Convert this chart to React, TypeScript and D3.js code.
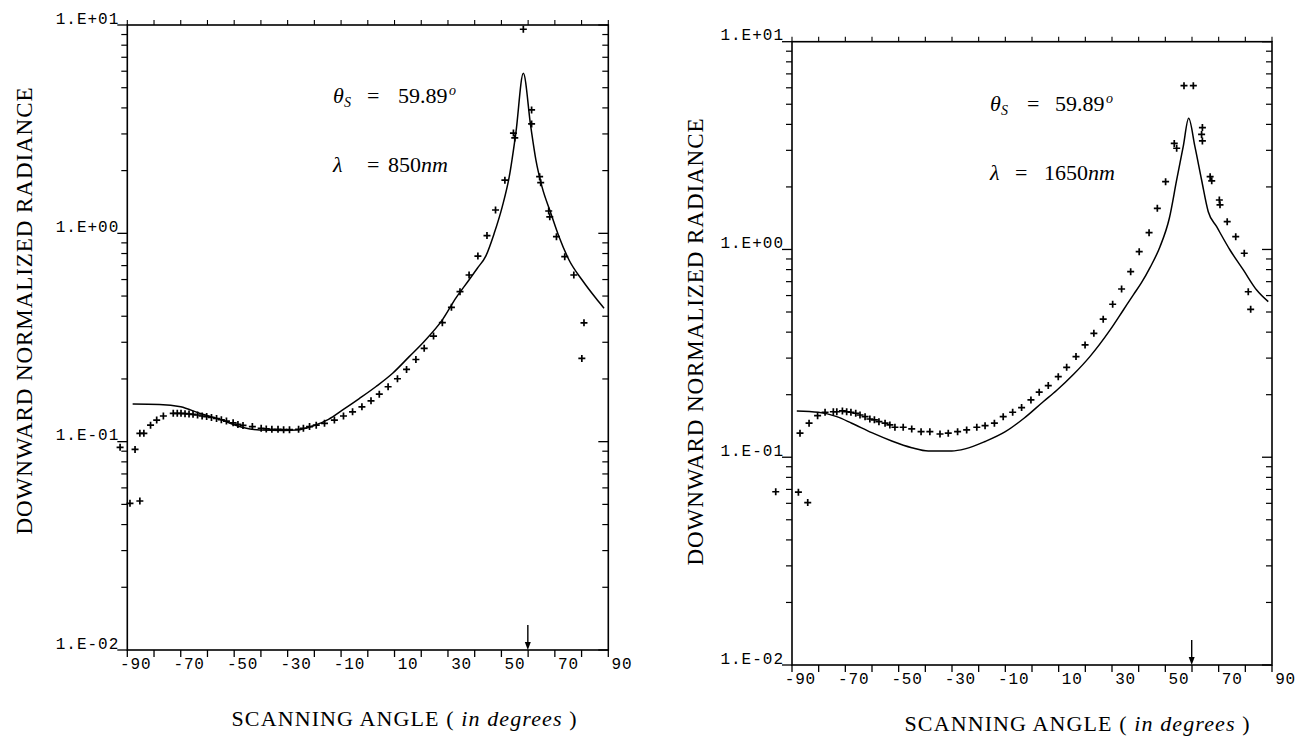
import React from 'react';
import * as d3 from 'd3';

// ---- data ----
// 850 nm panel, model curve
const modelAngle850 = [-88, -78, -70, -63, -55.4, -46.7, -40.5, -31.5, -26.5, -20.3, -14.7, -9.4, -3.2, 3.1, 9.3, 15.5, 21, 27.9, 33, 38, 41, 44.2, 47.3, 50.3, 52.9, 55.4, 58.2, 61, 62.9, 65.2, 68.5, 71.6, 75.3, 80.2, 85.3, 88.4];
const modelValue850 = [0.1515, 0.151, 0.147, 0.137, 0.128, 0.117, 0.1137, 0.1132, 0.1137, 0.1192, 0.128, 0.142, 0.161, 0.184, 0.213, 0.256, 0.302, 0.384, 0.49, 0.6, 0.68, 0.78, 1.0, 1.34, 1.86, 3.03, 5.86, 3.24, 2.25, 1.67, 1.25, 0.96, 0.745, 0.597, 0.489, 0.437];
// 850 nm panel, measurements (+)
const obsAngle850 = [-92.7, -87.1, -89, -85.3, -85.3, -83.8, -81.3, -79, -76.5, -72.8, -71.3, -69.9, -68.4, -66.9, -65.4, -63.7, -62, -60.3, -58.5, -56.6, -54.8, -52.9, -50.4, -48.6, -46.7, -43.2, -39.9, -38, -35.9, -33.6, -31.5, -29.3, -25.9, -24.1, -21.8, -19.3, -16.2, -12.5, -9.1, -5.7, -2.2, 1.2, 4.3, 7.6, 11.1, 14.5, 18, 21.1, 24.6, 27.9, 31.3, 34.5, 37.9, 41.2, 44.6, 47.8, 51.3, 54.5, 55, 58.2, 61.3, 61.3, 64.3, 64.7, 67.7, 68.1, 70.6, 73.7, 77.1, 80.9, 80.1];
const obsValue850 = [0.0939, 0.0918, 0.0506, 0.0519, 0.1096, 0.1096, 0.12, 0.127, 0.1328, 0.1368, 0.1368, 0.1368, 0.1363, 0.1358, 0.1353, 0.1343, 0.1328, 0.132, 0.1306, 0.1292, 0.1274, 0.1255, 0.1232, 0.121, 0.1196, 0.1182, 0.116, 0.1151, 0.1147, 0.1147, 0.1142, 0.1142, 0.1147, 0.116, 0.1182, 0.12, 0.1225, 0.127, 0.1328, 0.139, 0.147, 0.157, 0.169, 0.1835, 0.2004, 0.2223, 0.248, 0.2805, 0.3214, 0.3724, 0.4416, 0.5248, 0.631, 0.778, 0.976, 1.294, 1.8, 3.03, 2.87, 9.54, 3.91, 3.35, 1.87, 1.75, 1.28, 1.2, 0.964, 0.773, 0.631, 0.372, 0.251];

// 1650 nm panel, model curve
const modelAngle1650 = [-88.2, -80.1, -73.2, -67.6, -60.1, -52.6, -45.1, -38.9, -30.1, -25.1, -17.6, -10, -3, 4.2, 9.3, 15.5, 21.7, 29.3, 34.2, 38, 41, 44.3, 48, 51.5, 54.25, 56.7, 58.75, 61.1, 63.6, 66.1, 69.25, 74.25, 79.25, 84.25, 88.6];
const modelValue1650 = [0.167, 0.1646, 0.1568, 0.1458, 0.1313, 0.1198, 0.1112, 0.1072, 0.1072, 0.1097, 0.119, 0.1327, 0.154, 0.185, 0.21, 0.25, 0.305, 0.41, 0.51, 0.605, 0.69, 0.82, 1.031, 1.413, 2.16, 3.125, 4.28, 3.125, 2.16, 1.52, 1.287, 0.994, 0.797, 0.638, 0.561];
// 1650 nm panel, measurements (+)
const obsAngle1650 = [-96.1, -87, -87.6, -84.1, -83.6, -80.4, -77.6, -74.5, -73.2, -71.1, -69.5, -67.9, -66.1, -64.5, -62.6, -60.8, -59.1, -57.4, -55.1, -53.3, -51.4, -48.3, -45.1, -41.6, -38.3, -34.5, -31.4, -27.9, -24.5, -20.7, -17.6, -14.1, -10.8, -7.25, -3.9, -0.4, 2.7, 6.1, 9.85, 13, 16.5, 19.9, 23.2, 26.7, 30.25, 33.6, 37, 40.2, 43.9, 47, 50.1, 53.35, 54.25, 57, 60.5, 63.9, 63.6, 63.9, 66.8, 67.4, 70.25, 70.5, 73.2, 76.4, 79.6, 81.1, 82];
const obsValue1650 = [0.0682, 0.1305, 0.0679, 0.0605, 0.1459, 0.1585, 0.1646, 0.1655, 0.1655, 0.167, 0.1655, 0.1646, 0.1628, 0.1597, 0.1568, 0.1528, 0.1513, 0.1483, 0.1459, 0.143, 0.1394, 0.1394, 0.1368, 0.1328, 0.1328, 0.1294, 0.1305, 0.1328, 0.1353, 0.1394, 0.1418, 0.1459, 0.1568, 0.1646, 0.1733, 0.1887, 0.2056, 0.2212, 0.2443, 0.271, 0.305, 0.347, 0.395, 0.4617, 0.5448, 0.6454, 0.782, 0.976, 1.205, 1.578, 2.12, 3.24, 3.07, 6.14, 6.14, 3.86, 3.58, 3.33, 2.24, 2.14, 1.73, 1.64, 1.36, 1.152, 0.959, 0.626, 0.515];

const xTicks = d3.range(-90, 91, 10);
const xLabels = d3.range(-90, 91, 20);
const yMajor = [0.01, 0.1, 1, 10];
const yMajorLabels = ['1.E-02', '1.E-01', '1.E+00', '1.E+01'];
const solarAngle = 59.89;

const serif = '"Liberation Serif", "DejaVu Serif", serif';
const mono = '"Liberation Mono", "DejaVu Sans Mono", monospace';

type PanelProps = {
  left: number; right: number; top: number; bottom: number;
  modelA: number[]; modelV: number[]; obsA: number[]; obsV: number[];
  wave: string;
  ann: { x: number; y1: number; y2: number; eq1: number; eq2: number; num2: number };
  yTitle: { x: number; y: number };
  xTitle: { x: number; y: number };
};

const Panel = ({ left, right, top, bottom, modelA, modelV, obsA, obsV, wave, ann, yTitle, xTitle }: PanelProps) => {
  const x = d3.scaleLinear().domain([-90, 90]).range([left, right]);
  const y = d3.scaleLog().domain([0.01, 10]).range([bottom, top]);

  const minor: number[] = [];
  [0.01, 0.1, 1].forEach(d => d3.range(2, 10).forEach(k => minor.push(d * k)));

  const line = d3.line<number>()
    .x((_, i) => x(modelA[i]))
    .y(d => y(d))
    .curve(d3.curveMonotoneX);

  const ax = x(solarAngle);

  return (
    <g>
      {/* frame */}
      <rect x={left} y={top} width={right - left} height={bottom - top} fill="none" stroke="#000" strokeWidth={1.6} />
      {/* x ticks */}
      {xTicks.map(t => (
        <g key={'xt' + t}>
          <line x1={x(t)} x2={x(t)} y1={bottom} y2={bottom + 7} stroke="#000" strokeWidth={1.3} />
          <line x1={x(t)} x2={x(t)} y1={top} y2={top - 5} stroke="#000" strokeWidth={1.1} />
        </g>
      ))}
      {xLabels.map(t => (
        <text key={'xl' + t} x={x(t) + 24} y={bottom + 19} textAnchor="end" fontFamily={mono} fontSize={16} letterSpacing={0.8}>
          {t < 0 ? '-' + Math.abs(t) : String(t)}
        </text>
      ))}
      {/* y ticks */}
      {minor.map(v => (
        <g key={'ym' + v}>
          <line x1={left} x2={left - 6} y1={y(v)} y2={y(v)} stroke="#000" strokeWidth={1.2} />
          <line x1={right} x2={right - 6} y1={y(v)} y2={y(v)} stroke="#000" strokeWidth={1.2} />
        </g>
      ))}
      {yMajor.map((v, i) => (
        <g key={'yM' + v}>
          <line x1={left} x2={left - 10} y1={y(v)} y2={y(v)} stroke="#000" strokeWidth={1.3} />
          <line x1={right} x2={right - 10} y1={y(v)} y2={y(v)} stroke="#000" strokeWidth={1.3} />
          <text x={left - 8} y={y(v) - 1.5} textAnchor="end" fontFamily={mono} fontSize={16} letterSpacing={1}>
            {yMajorLabels[i]}
          </text>
        </g>
      ))}
      {/* model */}
      <path d={line(modelV) || ''} fill="none" stroke="#000" strokeWidth={1.5} />
      {/* measurements */}
      {obsA.map((a, i) => {
        const px = x(a), py = y(obsV[i]);
        return <path key={'o' + i} d={`M${px - 3.5},${py}H${px + 3.5}M${px},${py - 3.5}V${py + 3.5}`} stroke="#000" strokeWidth={1.7} />;
      })}
      {/* solar angle arrow */}
      <line x1={ax} x2={ax} y1={bottom - 25} y2={bottom - 5} stroke="#000" strokeWidth={1.4} />
      <path d={`M${ax - 3},${bottom - 8}L${ax + 3},${bottom - 8}L${ax},${bottom}Z`} fill="#000" />
      {/* annotations */}
      <g fontFamily={serif} fontSize={22}>
        <text x={ann.x} y={ann.y1} fontStyle="italic">θ</text>
        <text x={ann.x + 11} y={ann.y1 + 4} fontStyle="italic" fontSize={14}>S</text>
        <text x={ann.x + ann.eq1} y={ann.y1}>=</text>
        <text x={ann.x + 65} y={ann.y1}>59.89</text>
        <text x={ann.x + 116} y={ann.y1 - 8} fontStyle="italic" fontSize={14}>o</text>
        <text x={ann.x} y={ann.y2} fontStyle="italic">λ</text>
        <text x={ann.x + ann.eq2} y={ann.y2}>=</text>
        <text x={ann.x + ann.num2} y={ann.y2}>
          {wave}<tspan fontStyle="italic">nm</tspan>
        </text>
      </g>
      {/* axis titles */}
      <text transform={`translate(${yTitle.x},${yTitle.y}) rotate(-90)`} textAnchor="middle" fontFamily={serif} fontSize={23} textLength={447} lengthAdjust="spacing">
        DOWNWARD NORMALIZED RADIANCE
      </text>
      <text x={xTitle.x} y={xTitle.y} textAnchor="middle" fontFamily={serif} fontSize={22} textLength={345} lengthAdjust="spacing">
        SCANNING ANGLE ( <tspan fontStyle="italic">in degrees</tspan> )
      </text>
    </g>
  );
};

export default function App() {
  return (
    <div style={{ position: 'absolute', left: 0, top: 0, background: '#fff' }}>
      <svg width={1295} height={736} style={{ display: 'block', background: '#fff' }}>
        <Panel
          left={127.3} right={608.3} top={25} bottom={650}
          modelA={modelAngle850} modelV={modelValue850} obsA={obsAngle850} obsV={obsValue850}
          wave="850"
          ann={{ x: 333, y1: 103, y2: 172, eq1: 34, eq2: 34, num2: 55 }}
          yTitle={{ x: 32, y: 311 }}
          xTitle={{ x: 404, y: 726 }}
        />
        <Panel
          left={792} right={1272} top={41.7} bottom={665}
          modelA={modelAngle1650} modelV={modelValue1650} obsA={obsAngle1650} obsV={obsValue1650}
          wave="1650"
          ann={{ x: 990, y1: 111, y2: 180, eq1: 37, eq2: 25, num2: 54 }}
          yTitle={{ x: 703, y: 342 }}
          xTitle={{ x: 1077, y: 731 }}
        />
      </svg>
    </div>
  );
}
